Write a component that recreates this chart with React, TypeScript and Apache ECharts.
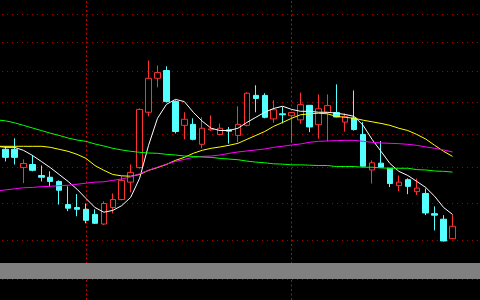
import React, { useEffect, useRef } from "react";
import * as echarts from "echarts";

// 52 trading days (first one is only partly visible at the left edge)
const categories = [
  "T01", "T02", "T03", "T04", "T05", "T06", "T07", "T08", "T09", "T10", "T11", "T12", "T13",
  "T14", "T15", "T16", "T17", "T18", "T19", "T20", "T21", "T22", "T23", "T24", "T25", "T26",
  "T27", "T28", "T29", "T30", "T31", "T32", "T33", "T34", "T35", "T36", "T37", "T38", "T39",
  "T40", "T41", "T42", "T43", "T44", "T45", "T46", "T47", "T48", "T49", "T50", "T51", "T52",
];

const opens = [21.24, 20.54, 20.54, 20.0, 20.09, 19.77, 19.72, 19.6, 18.95, 18.87, 18.82, 18.68, 18.42, 18.87, 19.09, 19.58, 20.0, 21.68, 22.78, 23.04, 22.02, 21.27, 21.3, 20.69, 21.13, 20.99, 21.13, 20.96, 21.27, 22.22, 22.22, 21.47, 21.63, 21.57, 21.44, 21.9, 21.29, 21.67, 21.67, 21.37, 21.5, 20.99, 19.93, 20.13, 19.98, 19.48, 19.65, 19.31, 19.26, 18.7, 18.55, 18.03];
const closes = [20.72, 20.3, 20.3, 20.12, 19.92, 19.72, 19.6, 19.35, 18.85, 18.82, 18.52, 18.44, 18.98, 19.09, 19.63, 19.86, 21.77, 22.78, 22.97, 22.02, 21.08, 21.46, 20.84, 21.18, 21.16, 21.18, 21.09, 21.3, 22.29, 22.12, 21.52, 21.76, 21.6, 21.67, 21.92, 21.22, 21.79, 21.89, 21.53, 21.55, 21.14, 20.04, 20.14, 20.01, 19.54, 19.58, 19.46, 19.41, 18.72, 18.66, 17.97, 18.36];
const lows = [20.66, 20.18, 20.09, 19.55, 19.89, 19.6, 19.46, 18.95, 18.77, 18.63, 18.44, 18.42, 18.39, 18.71, 19.07, 19.29, 19.97, 21.55, 22.48, 21.99, 21.02, 20.84, 20.81, 20.57, 21.1, 20.96, 20.71, 20.75, 21.24, 21.68, 21.49, 21.35, 21.33, 20.73, 21.32, 21.06, 20.86, 20.78, 21.52, 21.08, 21.11, 20.03, 19.54, 20.0, 19.44, 19.32, 19.24, 19.22, 18.66, 18.25, 17.96, 18.02];
const highs = [21.27, 20.63, 20.87, 20.24, 20.36, 20.06, 19.89, 19.63, 19.46, 19.24, 18.98, 18.82, 19.04, 19.26, 19.75, 20.09, 21.8, 23.38, 23.21, 23.18, 22.06, 21.68, 21.49, 21.52, 21.58, 21.33, 21.22, 21.87, 22.32, 22.55, 22.29, 22.06, 21.85, 21.68, 22.31, 21.9, 22.25, 22.25, 22.58, 21.64, 22.38, 21.37, 20.21, 20.79, 19.98, 19.77, 19.69, 19.68, 19.4, 18.9, 18.66, 18.68];

const ma5 = [20.63, 20.6, 20.6, 20.51, 20.36, 20.18, 20.0, 19.8, 19.6, 19.38, 19.12, 18.87, 18.74, 18.79, 18.92, 19.15, 19.69, 20.66, 21.49, 21.93, 22.09, 22.02, 21.68, 21.4, 21.18, 21.11, 21.11, 21.18, 21.36, 21.52, 21.68, 21.8, 21.87, 21.77, 21.71, 21.71, 21.68, 21.68, 21.65, 21.61, 21.55, 21.27, 20.84, 20.48, 20.12, 19.89, 19.77, 19.6, 19.43, 19.18, 18.87, 18.68];
const ma10 = [20.63, 20.63, 20.63, 20.63, 20.63, 20.63, 20.6, 20.54, 20.48, 20.39, 20.27, 20.06, 19.92, 19.8, 19.76, 19.75, 19.8, 19.92, 20.0, 20.09, 20.21, 20.3, 20.42, 20.51, 20.57, 20.61, 20.66, 20.72, 20.84, 20.96, 21.08, 21.24, 21.36, 21.49, 21.6, 21.63, 21.65, 21.63, 21.55, 21.52, 21.49, 21.43, 21.38, 21.33, 21.27, 21.18, 21.11, 20.99, 20.85, 20.66, 20.48, 20.33];
const ma20 = [19.33, 19.36, 19.39, 19.42, 19.43, 19.45, 19.46, 19.48, 19.49, 19.52, 19.55, 19.58, 19.59, 19.63, 19.67, 19.73, 19.82, 19.92, 20.01, 20.1, 20.18, 20.24, 20.3, 20.33, 20.34, 20.37, 20.42, 20.46, 20.49, 20.52, 20.55, 20.6, 20.63, 20.67, 20.7, 20.75, 20.78, 20.79, 20.8, 20.81, 20.81, 20.78, 20.75, 20.73, 20.72, 20.71, 20.69, 20.66, 20.61, 20.57, 20.52, 20.46];
const ma60 = [21.44, 21.41, 21.35, 21.27, 21.19, 21.11, 21.03, 20.96, 20.88, 20.82, 20.78, 20.7, 20.64, 20.57, 20.52, 20.48, 20.45, 20.43, 20.42, 20.39, 20.37, 20.34, 20.33, 20.31, 20.3, 20.27, 20.25, 20.23, 20.19, 20.16, 20.14, 20.11, 20.1, 20.08, 20.08, 20.07, 20.06, 20.06, 20.03, 20.03, 20.03, 20.01, 20.01, 19.99, 19.98, 19.98, 19.98, 19.94, 19.93, 19.9, 19.89, 19.87];

// price grid levels (log price axis) and month separators
const gridLevels = [25, 24, 23, 22, 21, 20, 19, 18, 17];
const separators = ["T11", "T34"];

const UP = "#ff3232";
const DOWN = "#54ffff";

export default function App() {
  const ref = useRef<HTMLDivElement>(null);

  useEffect(() => {
    if (!ref.current) return;
    const chart = echarts.init(ref.current, null, { renderer: "svg" });

    const candleData = categories.map((_, i) => [opens[i], closes[i], lows[i], highs[i]]);

    const maLine = (name: string, data: number[], color: string) => ({
      name,
      type: "line",
      data,
      symbol: "none",
      showSymbol: false,
      silent: true,
      z: 4,
      lineStyle: { color, width: 1 },
      emphasis: { disabled: true },
    });

    chart.setOption({
      animation: false,
      backgroundColor: "#000000",
      grid: {
        left: -7.9,
        top: 0,
        width: 491.7,
        height: 300,
        containLabel: false,
        outerBoundsMode: "none",
      },
      xAxis: {
        type: "category",
        data: categories,
        min: 0,
        max: 54,
        boundaryGap: true,
        axisLine: { show: false },
        axisTick: { show: false },
        axisLabel: { show: false },
        splitLine: { show: false },
      },
      yAxis: {
        type: "log",
        logBase: 10,
        min: 16.489,
        max: 25.534,
        axisLine: { show: false },
        axisTick: { show: false },
        axisLabel: { show: false },
        splitLine: { show: false },
      },
      graphic: [
        {
          type: "rect",
          shape: { x: 0, y: 263, width: 480, height: 16 },
          style: { fill: "#808080" },
          z: 100,
          silent: true,
        },
      ],
      series: [
        {
          name: "grid",
          type: "line",
          data: [],
          z: 1,
          silent: true,
          markLine: {
            silent: true,
            z: 1,
            symbol: ["none", "none"],
            label: { show: false },
            emphasis: { disabled: true },
            lineStyle: { color: "#b40000", type: [1, 4], width: 1 },
            data: [
              ...gridLevels.map((v) => ({ yAxis: v })),
              ...separators.map((c) => ({
                xAxis: c,
                lineStyle: { color: "#c80000", type: [2, 2.5], width: 1 },
              })),
            ],
          },
        },
        {
          name: "K",
          type: "candlestick",
          data: candleData,
          barWidth: 6,
          z: 3,
          silent: true,
          itemStyle: {
            color: "#000000",
            color0: DOWN,
            borderColor: UP,
            borderColor0: DOWN,
            borderColorDoji: UP,
            borderWidth: 1,
          },
          emphasis: { disabled: true },
        },
        maLine("MA5", ma5, "#ffffff"),
        maLine("MA10", ma10, "#ffff00"),
        maLine("MA20", ma20, "#ff00ff"),
        maLine("MA60", ma60, "#00ff00"),
      ],
    });

    return () => chart.dispose();
  }, []);

  return (
    <div
      ref={ref}
      style={{ position: "fixed", left: 0, top: 0, width: 480, height: 300, background: "#000" }}
    />
  );
}
